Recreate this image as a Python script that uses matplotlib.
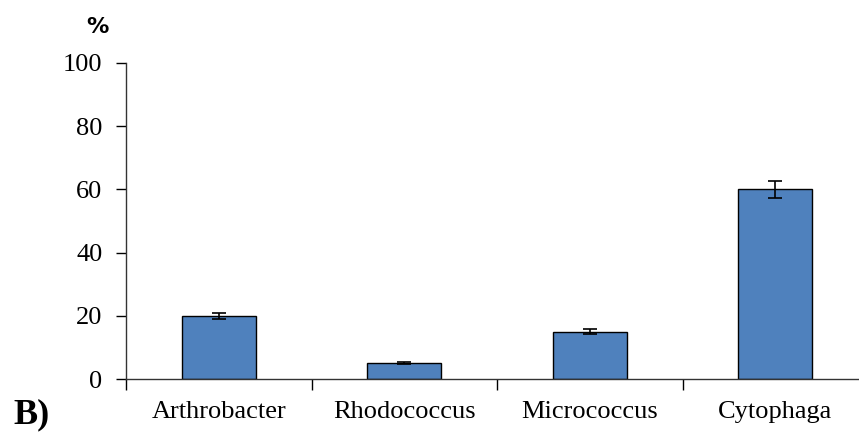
import matplotlib
matplotlib.use("Agg")
import matplotlib.pyplot as plt
import numpy as np

matplotlib.rcParams.update({'font.family': 'Liberation Serif', 'font.size': 19})

genera = ["Arthrobacter", "Rhodococcus", "Micrococcus", "Cytophaga"]
percent = [20, 5, 15, 60]
percent_err = [1.0, 0.4, 0.8, 2.8]
y_ticks = [0, 20, 40, 60, 80, 100]

fig = plt.figure(figsize=(8.59, 4.32), dpi=100)
ax = fig.add_axes([126 / 859, 1 - 379 / 432, 742 / 859, 316 / 432])

x = np.arange(len(genera))
ax.bar(x, percent, width=0.40, color="#4F81BD", edgecolor="black", linewidth=1.0,
       yerr=percent_err, capsize=5, error_kw={'elinewidth': 1.2, 'capthick': 1.2}, zorder=2)

ax.set_xlim(-0.5, len(genera) - 0.5)
ax.set_ylim(0, 100)
ax.set_yticks(y_ticks)

# category ticks sit on the boundaries between bars
ax.set_xticks(np.arange(len(genera) + 1) - 0.5)
ax.set_xticklabels([])
ax.set_xticks(x, minor=True)
ax.set_xticklabels(genera, minor=True)
ax.tick_params(axis='x', which='minor', length=0, pad=16)
ax.tick_params(axis='x', which='major', length=8, width=1, direction='out')
ax.tick_params(axis='y', length=7, width=1, direction='out', pad=10)

for side in ["top", "right"]:
    ax.spines[side].set_visible(False)
for side in ["left", "bottom"]:
    ax.spines[side].set_linewidth(1.0)
    ax.spines[side].set_color("#333333")

fig.text(97 / 859, 1 - 27 / 432, "%", family="DejaVu Sans", fontweight="bold",
         fontsize=16, ha="center", va="center")
fig.text(13 / 859, 1 - 415 / 432, "B)", fontweight="bold", fontsize=26,
         ha="left", va="center")

plt.savefig("out.png", dpi=100)
